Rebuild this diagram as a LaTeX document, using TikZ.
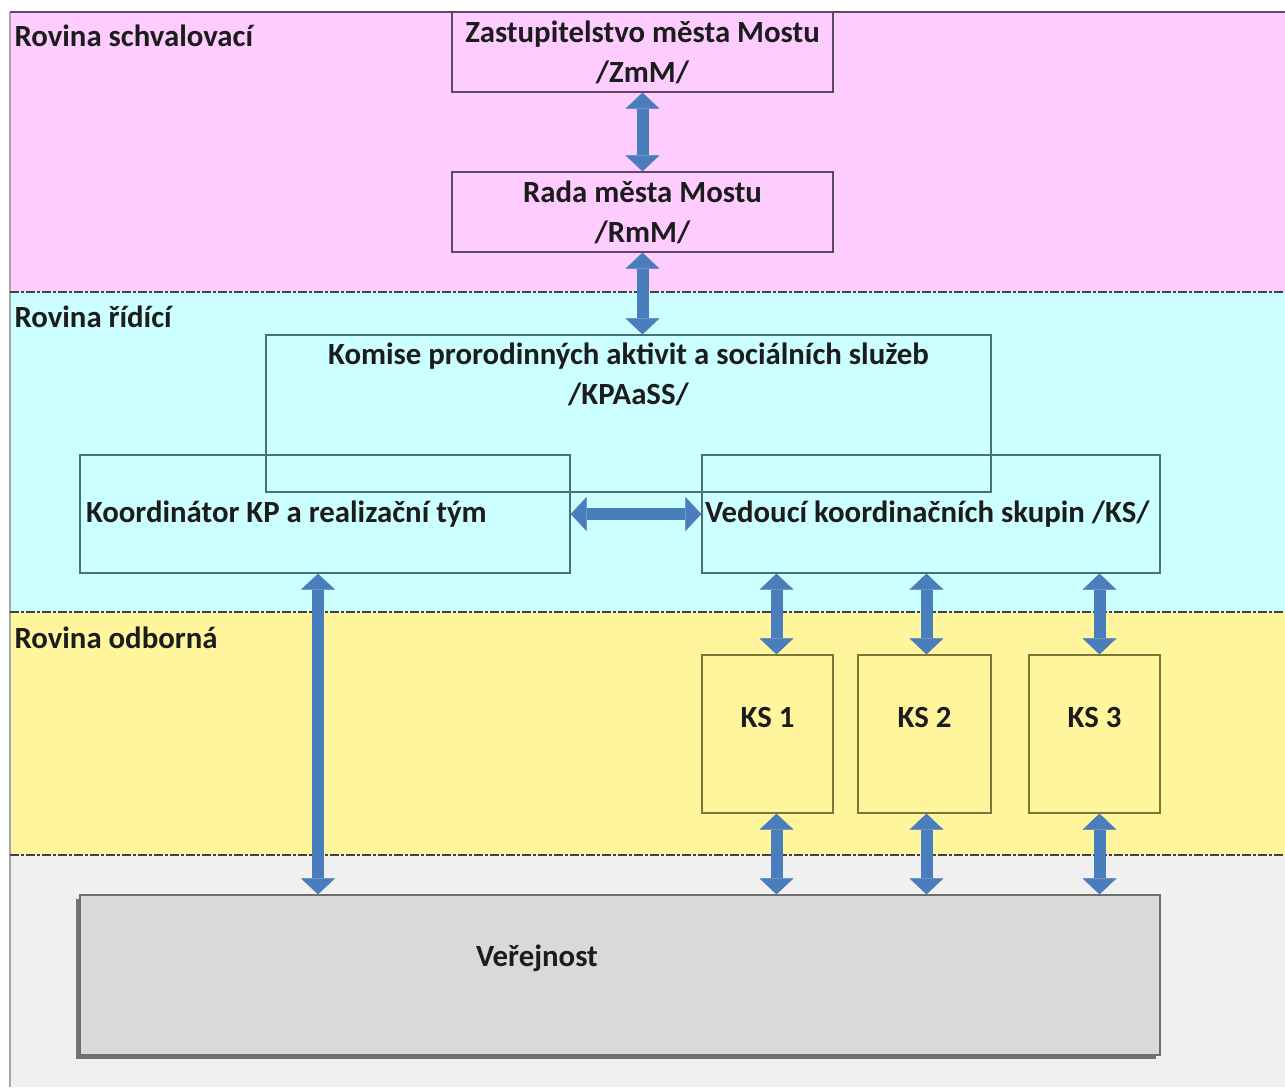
\documentclass[tikz,border=0pt]{standalone}
\usepackage{fontspec}
\setmainfont{Carlito}
\usetikzlibrary{arrows.meta,shadows}
\definecolor{pinkband}{HTML}{FFCCFF}
\definecolor{cyanband}{HTML}{CCFFFF}
\definecolor{yellowband}{HTML}{FFF59D}
\definecolor{greyband}{HTML}{F0F0F0}
\definecolor{pinkedge}{HTML}{5E4A5E}
\definecolor{cyanedge}{HTML}{4A7073}
\definecolor{yellowedge}{HTML}{7D7636}
\definecolor{greyedge}{HTML}{6E6E6E}
\definecolor{publicfill}{HTML}{D9D9D9}
\definecolor{arrowblue}{HTML}{4A7DBB}
\definecolor{inktext}{HTML}{1C1C1C}

\begin{document}
\begin{tikzpicture}[x=1pt,y=-1pt,
    every node/.style={font=\bfseries\fontsize{30.8}{40}\selectfont,text=inktext},
    box/.style={rectangle,draw=#1,line width=1.3pt,inner sep=0pt,align=center},
    sepline/.style={line width=2pt,black!75,dash pattern=on 9pt off 2pt on 3pt off 2pt},
    blockarrow/.style={line width=12pt,color=arrowblue,
      {Triangle[length=16pt,width=34pt,line width=0.5pt]}-{Triangle[length=16pt,width=34pt,line width=0.5pt]}}]

        \useasboundingbox (0,0) rectangle (1285,1087);

        \fill[pinkband]   (10,12)  rectangle (1285,292);
        \fill[cyanband]   (10,292) rectangle (1285,612);
        \fill[yellowband] (10,612) rectangle (1285,855);
        \fill[greyband]   (10,855) rectangle (1285,1087);
        \draw[black!35,line width=1.5pt] (10,12) -- (10,1087);
        \draw[pinkedge,line width=1.3pt] (10,12) -- (1285,12);

        \draw[sepline] (10,292) -- (1285,292);
        \draw[sepline] (10,612) -- (1285,612);
        \draw[sepline] (10,855) -- (1285,855);

        \node[anchor=west] (lblschval)  at (11,36)  {Rovina schvalovací};
        \node[anchor=west] (lblridici)  at (11,317) {Rovina řídící};
        \node[anchor=west] (lblodborna) at (11,638) {Rovina odborná};

        \node[box=pinkedge,minimum width=381pt,minimum height=80pt]  (zmm)   at (642.5,52)
              {Zastupitelstvo města Mostu\\/ZmM/};
        \node[box=pinkedge,minimum width=381pt,minimum height=80pt]  (rmm)   at (642.5,212)
              {Rada města Mostu\\/RmM/};

        \node[box=cyanedge,minimum width=725pt,minimum height=157pt] (kpa)   at (628.5,413.5)
              [label={[anchor=north,yshift=-5pt,align=center]north:Komise prorodinných aktivit a sociálních služeb\\/KPAaSS/}] {};
        \node[box=cyanedge,minimum width=490pt,minimum height=118pt,text width=478pt,align=flush left] (koord) at (325,514)
              {Koordinátor KP a realizační tým};
        \node[box=cyanedge,minimum width=458pt,minimum height=118pt,text width=452pt,align=flush left] (ved)   at (931,514)
              {Vedoucí koordinačních skupin /KS/};

        \node[box=yellowedge,minimum width=131pt,minimum height=158pt] (ks1) at (767.5,734)
              [label={[yshift=17pt]center:KS 1}] {};
        \node[box=yellowedge,minimum width=133pt,minimum height=158pt] (ks2) at (924.5,734)
              [label={[yshift=17pt]center:KS 2}] {};
        \node[box=yellowedge,minimum width=131pt,minimum height=158pt] (ks3) at (1094.5,734)
              [label={[yshift=17pt]center:KS 3}] {};

        \node[box=greyedge,fill=publicfill,minimum width=1080pt,minimum height=160pt,
              drop shadow={shadow xshift=-4pt,shadow yshift=-4pt,fill=black!55,opacity=1}] (verej) at (620,975) {};
        \node (verejtxt) at (537,958) {Veřejnost};

        \path[blockarrow]
              (zmm)  edge (rmm)
              (rmm.south) edge (rmm.south |- kpa.north)
              (koord.east) edge (ved.west)
              ([xshift=-7pt]koord.south) edge ([xshift=-7pt]koord.south |- verej.north)
              ([xshift=9pt]ks1.north |- ved.south) edge ([xshift=9pt]ks1.north)
              ([xshift=2pt]ks2.north |- ved.south) edge ([xshift=2pt]ks2.north)
              ([xshift=5pt]ks3.north |- ved.south) edge ([xshift=5pt]ks3.north)
              ([xshift=9pt]ks1.south) edge ([xshift=9pt]ks1.south |- verej.north)
              ([xshift=2pt]ks2.south) edge ([xshift=2pt]ks2.south |- verej.north)
              ([xshift=5pt]ks3.south) edge ([xshift=5pt]ks3.south |- verej.north);
\end{tikzpicture}
\end{document}
